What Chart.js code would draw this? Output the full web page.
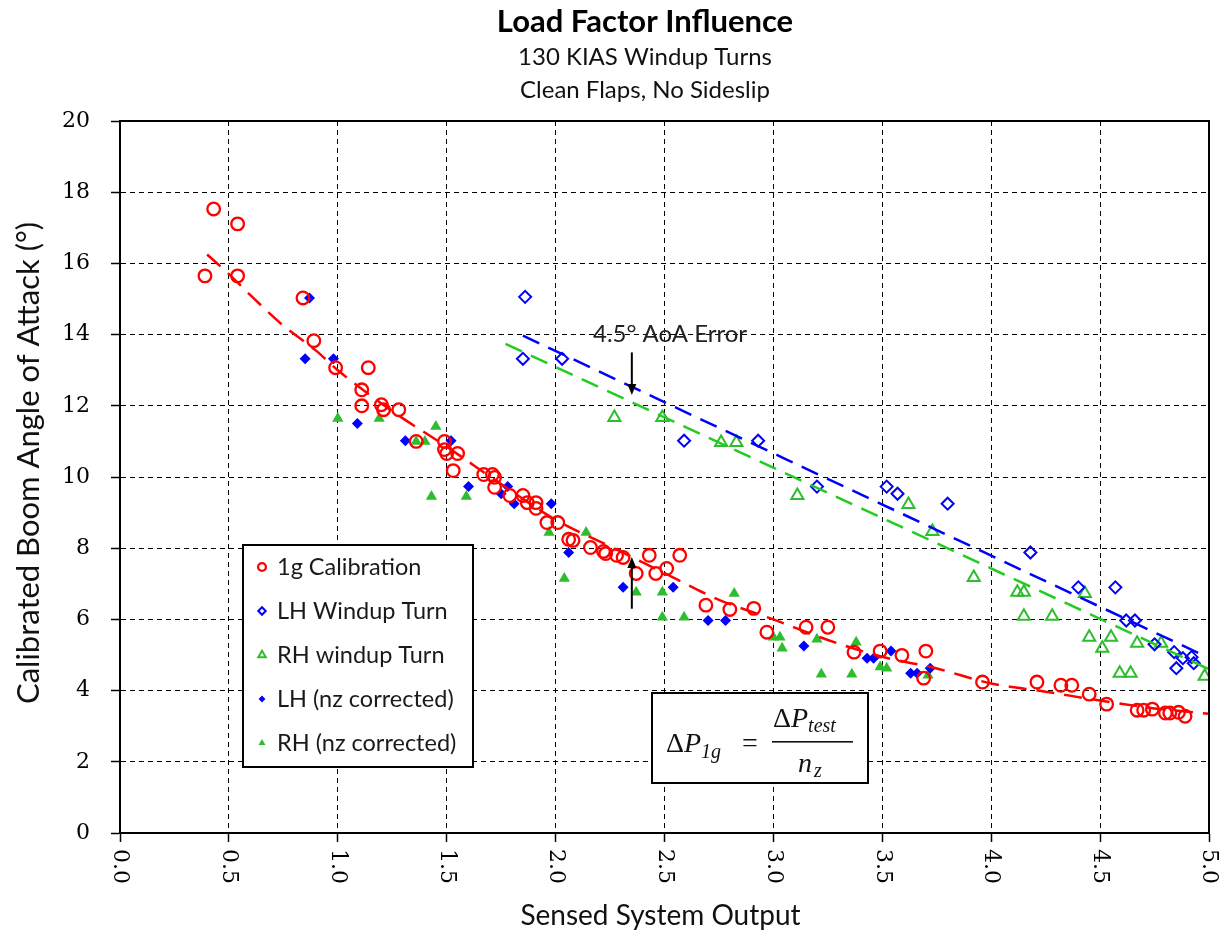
<!DOCTYPE html>
<html>
<head>
<meta charset="utf-8">
<script src="https://cdn.jsdelivr.net/npm/chart.js@4.4.0/dist/chart.umd.min.js"></script>
<style>
  body { margin: 0; background: #fff; }
  #wrap { width: 1222px; height: 932px; }
</style>
</head>
<body>
<div id="wrap"><canvas id="loadFactorChart"></canvas></div>
<script>
// values
const calX = [0.39, 0.43, 0.54, 0.54, 0.84, 0.89, 0.99, 1.14, 1.11, 1.11, 1.20, 1.21, 1.28, 1.36, 1.49, 1.49, 1.50, 1.55, 1.53,
  1.67, 1.71, 1.72, 1.72, 1.79, 1.85, 1.87, 1.91, 1.91, 1.96, 2.01, 2.06, 2.08, 2.16, 2.22, 2.23, 2.28, 2.31, 2.37, 2.43,
  2.46, 2.51, 2.57, 2.69, 2.80, 2.91, 2.97, 3.15, 3.25, 3.37, 3.49, 3.59, 3.70, 3.69, 3.96, 4.21, 4.32, 4.37, 4.45, 4.53,
  4.67, 4.70, 4.74, 4.80, 4.82, 4.86, 4.89];
const calY = [15.65, 17.53, 17.11, 15.65, 15.03, 13.83, 13.07, 13.07, 12.45, 12.00, 12.03, 11.89, 11.89, 11.00, 11.00, 10.77, 10.66, 10.66, 10.18,
  10.07, 10.07, 9.99, 9.71, 9.48, 9.48, 9.28, 9.28, 9.12, 8.72, 8.72, 8.25, 8.22, 8.02, 7.91, 7.85, 7.80, 7.74, 7.29, 7.80,
  7.29, 7.43, 7.80, 6.40, 6.28, 6.31, 5.64, 5.78, 5.78, 5.08, 5.11, 4.99, 5.11, 4.35, 4.24, 4.24, 4.15, 4.15, 3.90, 3.62,
  3.45, 3.45, 3.48, 3.37, 3.37, 3.39, 3.28];

const lhX = [1.86, 1.85, 2.03, 2.59, 2.93, 3.20, 3.52, 3.57, 3.80, 4.18, 4.40, 4.57, 4.62, 4.66, 4.75, 4.84, 4.85, 4.88, 4.92, 4.93];
const lhY = [15.06, 13.32, 13.32, 11.02, 11.02, 9.73, 9.73, 9.53, 9.25, 7.88, 6.90, 6.90, 5.97, 5.97, 5.30, 5.08, 4.63, 4.91, 4.94, 4.77];

const rhX = [2.27, 2.49, 2.76, 2.83, 3.11, 3.62, 3.73, 3.92, 4.12, 4.15, 4.15, 4.28, 4.43, 4.45, 4.51, 4.55, 4.59, 4.64, 4.67, 4.78, 4.98];
const rhY = [11.67, 11.67, 10.97, 10.97, 9.48, 9.23, 8.47, 7.18, 6.76, 6.76, 6.09, 6.09, 6.73, 5.50, 5.19, 5.50, 4.49, 4.49, 5.33, 5.33, 4.40];

const lhCorrX = [0.87, 0.85, 0.98, 1.09, 1.31, 1.52, 1.60, 1.75, 1.78, 1.81, 1.98, 2.06, 2.31, 2.54, 2.70, 2.78, 3.14, 3.43, 3.46, 3.54, 3.63, 3.66, 3.72];
const lhCorrY = [15.03, 13.32, 13.32, 11.50, 11.02, 11.02, 9.73, 9.53, 9.73, 9.25, 9.25, 7.88, 6.90, 6.90, 5.97, 5.97, 5.25, 4.91, 4.91, 5.11, 4.49, 4.49, 4.63];

const rhCorrX = [1.00, 1.19, 1.36, 1.40, 1.45, 1.43, 1.59, 1.97, 2.14, 2.04, 2.37, 2.49, 2.49, 2.59, 2.82, 3.00, 3.03, 3.04, 3.20, 3.22, 3.36, 3.38, 3.49, 3.52, 3.71];
const rhCorrY = [11.64, 11.64, 11.00, 11.00, 11.42, 9.45, 9.45, 8.44, 8.44, 7.15, 6.76, 6.76, 6.06, 6.06, 6.73, 5.50, 5.50, 5.19, 5.44, 4.46, 4.46, 5.36, 4.66, 4.63, 4.43];

// dashed trend lines as drawn in the picture
const calTrendX = [0.40, 0.50, 0.60, 0.75, 0.90, 1.00, 1.25, 1.50, 1.75, 2.00, 2.25, 2.50, 2.75, 3.00, 3.25, 3.50, 3.75, 4.00, 4.25, 4.50, 4.75, 5.00];
const calTrendY = [16.25, 15.70, 15.10, 14.25, 13.55, 13.00, 11.85, 10.85, 9.80, 8.80, 8.05, 7.30, 6.55, 6.00, 5.42, 4.95, 4.62, 4.20, 3.97, 3.72, 3.50, 3.35];
const lhTrendX = [1.85, 4.95];
const lhTrendY = [13.97, 5.06];
const rhTrendX = [1.77, 5.00];
const rhTrendY = [13.74, 4.60];

// axes
const xTickLabels = ['0.0', '0.5', '1.0', '1.5', '2.0', '2.5', '3.0', '3.5', '4.0', '4.5', '5.0'];
const yTickLabels = ['0', '2', '4', '6', '8', '10', '12', '14', '16', '18', '20'];

// annotation arrows: x, from y, to y
const arrowX = [2.35, 2.35];
const arrowFromY = [13.50, 6.30];
const arrowToY = [12.30, 7.75];

const RED = '#ff0000';
const BLUE = '#0000ff';
const GREEN = '#2ebd2e';
const FONT = 'Lato';
const TICKFONT = '"DejaVu Serif"';

function pts(xs, ys) {
  return xs.map((x, i) => ({ x: x, y: ys[i] }));
}

const series = [
  { label: '1g Calibration', data: pts(calX, calY), pointStyle: 'circle', pointRadius: 6.3,
    backgroundColor: 'rgba(0,0,0,0)', borderColor: RED, pointBorderWidth: 2.3 },
  { label: 'LH Windup Turn', data: pts(lhX, lhY), pointStyle: 'rectRot', pointRadius: 6,
    backgroundColor: 'rgba(0,0,0,0)', borderColor: BLUE, pointBorderWidth: 2 },
  { label: 'RH windup Turn', data: pts(rhX, rhY), pointStyle: 'triangle', pointRadius: 7,
    backgroundColor: 'rgba(0,0,0,0)', borderColor: GREEN, pointBorderWidth: 2 },
  { label: 'LH (nz corrected)', data: pts(lhCorrX, lhCorrY), pointStyle: 'rectRot', pointRadius: 5.5,
    backgroundColor: BLUE, borderColor: BLUE, pointBorderWidth: 0 },
  { label: 'RH (nz corrected)', data: pts(rhCorrX, rhCorrY), pointStyle: 'triangle', pointRadius: 6.5,
    backgroundColor: GREEN, borderColor: GREEN, pointBorderWidth: 0 },
];

function trend(xs, ys, color) {
  return {
    label: '_trend', data: pts(xs, ys), showLine: true, pointRadius: 0,
    borderColor: color, borderWidth: 2.5, borderDash: [18, 10],
    cubicInterpolationMode: 'monotone', fill: false,
  };
}

const datasets = [
  trend(calTrendX, calTrendY, RED),
  trend(lhTrendX, lhTrendY, BLUE),
  trend(rhTrendX, rhTrendY, '#22cc22'),
].concat(series);

const decor = {
  id: 'decor',
  afterDraw(chart) {
    const ctx = chart.ctx;
    const a = chart.chartArea;
    const xs = chart.scales.x, ys = chart.scales.y;
    ctx.save();
    ctx.setLineDash([]);
    ctx.fillStyle = '#000';

    // plot frame
    ctx.strokeStyle = '#000';
    ctx.lineWidth = 2;
    ctx.strokeRect(a.left, a.top, a.right - a.left, a.bottom - a.top);

    // y tick labels
    ctx.font = '22px ' + TICKFONT;
    ctx.textAlign = 'right';
    ctx.textBaseline = 'middle';
    yTickLabels.forEach(t => ctx.fillText(t, a.left - 30, ys.getPixelForValue(+t)));

    // x tick labels, rotated clockwise
    ctx.textAlign = 'left';
    xTickLabels.forEach(t => {
      ctx.save();
      ctx.translate(xs.getPixelForValue(+t), a.bottom + 16);
      ctx.rotate(Math.PI / 2);
      ctx.fillText(t, 0, 0);
      ctx.restore();
    });

    // titles
    ctx.textAlign = 'center';
    ctx.fillStyle = '#000';
    ctx.font = 'bold 31px ' + FONT;
    ctx.fillText('Load Factor Influence', 645, 22);
    ctx.font = '24px ' + FONT;
    ctx.fillStyle = '#111';
    ctx.fillText('130 KIAS Windup Turns', 645, 57);
    ctx.fillText('Clean Flaps, No Sideslip', 645, 90);

    // axis titles
    ctx.font = '28px ' + FONT;
    ctx.fillText('Sensed System Output', (a.left + a.right) / 2 - 4, 916);
    ctx.save();
    ctx.translate(29, 463);
    ctx.rotate(-Math.PI / 2);
    ctx.font = '31px ' + FONT;
    ctx.fillText('Calibrated Boom Angle of Attack (°)', 0, 0);
    ctx.restore();

    // annotation text + arrows
    ctx.font = '24px ' + FONT;
    ctx.fillStyle = '#222';
    ctx.fillText('4.5° AoA Error', 670, 334);
    ctx.fillStyle = '#000';
    ctx.strokeStyle = '#000';
    ctx.lineWidth = 2;
    arrowX.forEach((ax, i) => {
      const px = xs.getPixelForValue(ax);
      const y0 = ys.getPixelForValue(arrowFromY[i]);
      const y1 = ys.getPixelForValue(arrowToY[i]);
      const dir = y1 > y0 ? 1 : -1;
      ctx.beginPath();
      ctx.moveTo(px, y0);
      ctx.lineTo(px, y1 - dir * 6);
      ctx.stroke();
      ctx.beginPath();
      ctx.moveTo(px, y1);
      ctx.lineTo(px - 4.5, y1 - dir * 11);
      ctx.lineTo(px + 4.5, y1 - dir * 11);
      ctx.closePath();
      ctx.fill();
    });

    // legend box
    const lx = 243, ly = 545, lw = 230, lh = 222;
    ctx.fillStyle = '#fff';
    ctx.fillRect(lx, ly, lw, lh);
    ctx.strokeStyle = '#000';
    ctx.lineWidth = 2;
    ctx.strokeRect(lx, ly, lw, lh);
    ctx.font = '23.5px ' + FONT;
    ctx.textAlign = 'left';
    ctx.textBaseline = 'middle';
    series.forEach((s, i) => {
      const yy = ly + 22 + i * 44;
      ctx.save();
      ctx.fillStyle = s.backgroundColor;
      ctx.strokeStyle = s.borderColor;
      ctx.lineWidth = s.pointBorderWidth;
      Chart.helpers.drawPoint(ctx, {
        pointStyle: s.pointStyle, radius: s.pointRadius * 0.62, rotation: 0,
        borderWidth: s.pointBorderWidth,
      }, lx + 19, yy);
      ctx.restore();
      ctx.fillStyle = '#1a1a1a';
      ctx.fillText(s.label, lx + 34, yy);
    });

    // formula box
    const fx = 652, fy = 693, fw = 216, fh = 90;
    ctx.fillStyle = '#fff';
    ctx.fillRect(fx, fy, fw, fh);
    ctx.strokeStyle = '#000';
    ctx.lineWidth = 2;
    ctx.strokeRect(fx, fy, fw, fh);
    ctx.fillStyle = '#111';
    ctx.textBaseline = 'alphabetic';
    const big = '28px "Liberation Serif"';
    const bigI = 'italic 28px "Liberation Serif"';
    const sub = 'italic 20px "Liberation Serif"';
    let cx = 666;
    ctx.font = big; ctx.fillText('Δ', cx, 752); cx += ctx.measureText('Δ').width;
    ctx.font = bigI; ctx.fillText('P', cx, 752); cx += ctx.measureText('P').width;
    ctx.font = sub; ctx.fillText('1g', cx, 758);
    ctx.font = big; ctx.fillText('=', 742, 752);
    let nx = 773;
    ctx.font = big; ctx.fillText('Δ', nx, 727); nx += ctx.measureText('Δ').width;
    ctx.font = bigI; ctx.fillText('P', nx, 727); nx += ctx.measureText('P').width;
    ctx.font = sub; ctx.fillText('test', nx, 732);
    ctx.fillRect(772, 741, 81, 1.6);
    ctx.font = bigI; ctx.fillText('n', 798, 772);
    ctx.font = sub; ctx.fillText('z', 798 + ctx.measureText('n').width + 6, 777);

    ctx.restore();
  }
};

const ctx = document.getElementById('loadFactorChart').getContext('2d');
const loadFactorChart = new Chart(ctx, {
  type: 'scatter',
  data: { datasets: datasets },
  options: {
    responsive: true,
    maintainAspectRatio: false,
    animation: false,
    layout: { padding: { top: 121, right: 13, left: 0, bottom: 0 } },
    plugins: { legend: { display: false }, title: { display: false }, tooltip: { enabled: false } },
    scales: {
      x: {
        type: 'linear', min: 0, max: 5,
        ticks: { stepSize: 0.5, display: false },
        grid: { color: '#000', lineWidth: 1, drawTicks: true, tickLength: 9, tickColor: '#000', tickWidth: 1.5, tickBorderDash: [] },
        border: { display: true, color: '#000', width: 2, dash: [5, 4] },
        afterFit: s => { s.height = 99; },
      },
      y: {
        type: 'linear', min: 0, max: 20,
        ticks: { stepSize: 2, display: false },
        grid: { color: '#000', lineWidth: 1, drawTicks: true, tickLength: 9, tickColor: '#000', tickWidth: 1.5, tickBorderDash: [] },
        border: { display: true, color: '#000', width: 2, dash: [5, 4] },
        afterFit: s => { s.width = 120; },
      },
    },
  },
  plugins: [decor],
});
</script>
</body>
</html>
